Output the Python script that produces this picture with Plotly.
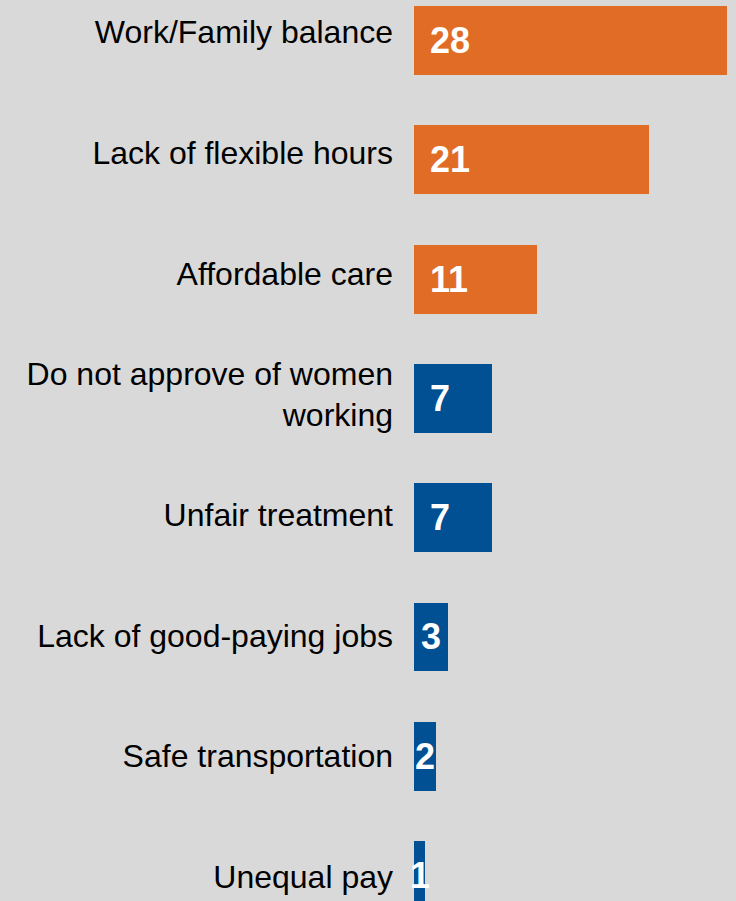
import plotly.graph_objects as go

# Reasons cited, in display order (top to bottom)
categories = [
    "Work/Family balance",
    "Lack of flexible hours",
    "Affordable care",
    "Do not approve of women<br>working",
    "Unfair treatment",
    "Lack of good-paying jobs",
    "Safe transportation",
    "Unequal pay",
]
values = [28, 21, 11, 7, 7, 3, 2, 1]
groups = ["top", "top", "top", "other", "other", "other", "other", "other"]

group_colors = {"top": "#E16C26", "other": "#005093"}
BG = "#D9D9D9"
FONT = "Arial, Liberation Sans, sans-serif"

positions = list(range(len(categories)))
colors = [group_colors[g] for g in groups]

fig = go.Figure()
fig.add_trace(go.Bar(
    x=values,
    y=positions,
    orientation="h",
    marker=dict(color=colors, line=dict(width=0)),
    width=0.578,
    hoverinfo="skip",
))

# Invisible carrier so the label axis is laid out with its own spacing
fig.add_trace(go.Scatter(
    x=[0] * len(positions),
    y=positions,
    yaxis="y2",
    mode="markers",
    marker=dict(opacity=0),
    hoverinfo="skip",
))

# Value labels: left-aligned inside wide bars, centred on narrow ones
annotations = []
for pos, val in zip(positions, values):
    narrow = val <= 3
    annotations.append(dict(
        x=val / 2 if narrow else 0,
        y=pos,
        xref="x", yref="y",
        text=f"<b>{val}</b>",
        showarrow=False,
        xanchor="center" if narrow else "left",
        yanchor="middle",
        xshift=0 if narrow else 14,
        font=dict(family=FONT, size=36, color="white"),
    ))

fig.update_layout(
    width=736, height=901,
    margin=dict(l=414, r=0, t=0, b=0),
    paper_bgcolor=BG,
    plot_bgcolor=BG,
    showlegend=False,
    bargap=0,
    annotations=annotations,
    xaxis=dict(
        range=[0, 28.8],
        visible=False,
        fixedrange=True,
    ),
    yaxis=dict(
        range=[7.213, -0.3395],
        showticklabels=False,
        ticks="",
        showgrid=False,
        zeroline=False,
        showline=False,
        fixedrange=True,
    ),
    yaxis2=dict(
        overlaying="y",
        anchor="x",
        side="left",
        range=[7.199, -0.266],
        tickvals=positions,
        ticktext=categories,
        ticks="",
        showgrid=False,
        zeroline=False,
        showline=False,
        ticklabelstandoff=20,
        tickfont=dict(family=FONT, size=32, color="#000000"),
        fixedrange=True,
    ),
)

fig.write_html("out.html")
